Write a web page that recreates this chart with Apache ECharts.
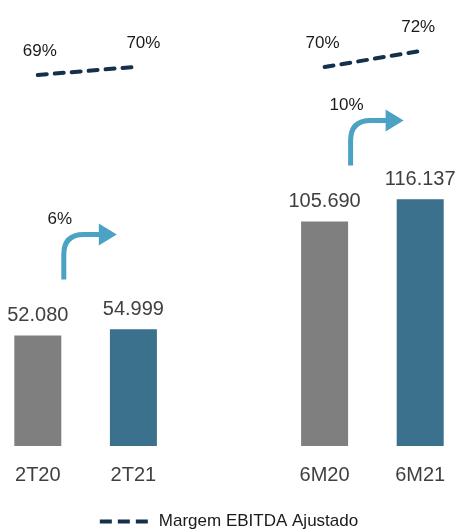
<!DOCTYPE html>
<html><head><meta charset="utf-8">
<script src="https://cdn.jsdelivr.net/npm/echarts@6/dist/echarts.min.js"></script>
<style>html,body{margin:0;padding:0;background:#fff;overflow:hidden}#c{position:absolute;left:-10px;top:0;width:478px;height:532px}</style>
</head><body><div id="c"></div>
<script>
const categories = ['2T20', '2T21', '', '6M20', '6M21'];
const ebitda = [52.080, 54.999, null, 105.690, 116.137];
const margin = [69, 70, null, 70, 72];
const growthFrom = [0, 3];
const growthLabels = ['6%', '10%'];
const seriesName = 'Margem EBITDA Ajustado';

const FONT = '"Liberation Sans", Arial, sans-serif';
const GRAY = '#7f7f7f', TEAL = '#3b718d', ARROW = '#4ba2c2', NAVY = '#14304a';

const chart = echarts.init(document.getElementById('c'), null, {renderer: 'canvas'});
const growthData = growthFrom.map((i, k) => [i, ebitda[i], growthLabels[k]]);
const marginData = margin.map((v, i) => ({
  value: v,
  label: {offset: [[2, 0], [10, 0], [0, 0], [-2, 0], [-2, 0]][i]}
}));

chart.setOption({
  animation: false,
  grid: {left: 0, right: 0, top: 0, bottom: 86, containLabel: false},
  xAxis: {
    type: 'category', data: categories,
    axisLine: {show: false}, axisTick: {show: false},
    axisLabel: {margin: 19, fontSize: 20, color: '#404040', fontFamily: FONT}
  },
  yAxis: [
    {type: 'value', min: 0, max: 210, show: false},
    {type: 'value', min: 22.625, max: 78.375, show: false}
  ],
  legend: {
    top: 508, left: 'center', itemWidth: 50, itemHeight: 4, itemGap: 8,
    data: [{name: seriesName, icon: 'path://M0 0H12V4H0Z M18 0H30V4H18Z M36 0H48V4H36Z'}],
    itemStyle: {color: NAVY},
    textStyle: {fontSize: 17, color: '#1a1a1a', fontFamily: FONT, padding: [0, 0, 0, 5]}
  },
  series: [
    {
      type: 'bar', data: ebitda, barWidth: 47,
      itemStyle: {color: p => (p.dataIndex % 3 === 0 ? GRAY : TEAL)},
      label: {
        show: true, position: 'top', distance: 10,
        fontSize: 20, color: '#404040', fontFamily: FONT,
        formatter: p => p.value.toFixed(3)
      }
    },
    {
      type: 'line', name: seriesName, yAxisIndex: 1, data: marginData,
      symbol: 'circle', symbolSize: 0.01, showSymbol: true, connectNulls: false,
      lineStyle: {color: NAVY, width: 4, type: [9, 8], cap: 'round'},
      itemStyle: {color: NAVY},
      label: {
        show: true, position: 'top', distance: 15,
        fontSize: 17, color: '#1a1a1a', fontFamily: FONT,
        formatter: p => p.value + '%'
      }
    },
    {
      type: 'custom', data: growthData, silent: true,
      renderItem: (params, api) => {
        const pt = api.coord([api.value(0), api.value(1)]);
        const x0 = pt[0] + 26, y0 = pt[1] - 56, y1 = pt[1] - 101, r = 20;
        const xh = pt[0] + 61, tip = pt[0] + 79, hh = 11;
        return {
          type: 'group',
          children: [
            {
              type: 'path',
              shape: {pathData: `M${x0} ${y0} L${x0} ${y1 + r} Q${x0} ${y1} ${x0 + r} ${y1} L${xh + 1} ${y1}`},
              style: {stroke: ARROW, lineWidth: 5, fill: null}
            },
            {
              type: 'polygon',
              shape: {points: [[xh, y1 - hh], [tip, y1], [xh, y1 + hh]]},
              style: {fill: ARROW}
            },
            {
              type: 'text',
              style: {
                text: api.value(2), x: x0 - 4, y: y1 - 15,
                align: 'center', verticalAlign: 'middle',
                fontSize: 17, fill: '#1a1a1a', fontFamily: FONT
              }
            }
          ]
        };
      }
    }
  ]
});
</script></body></html>
